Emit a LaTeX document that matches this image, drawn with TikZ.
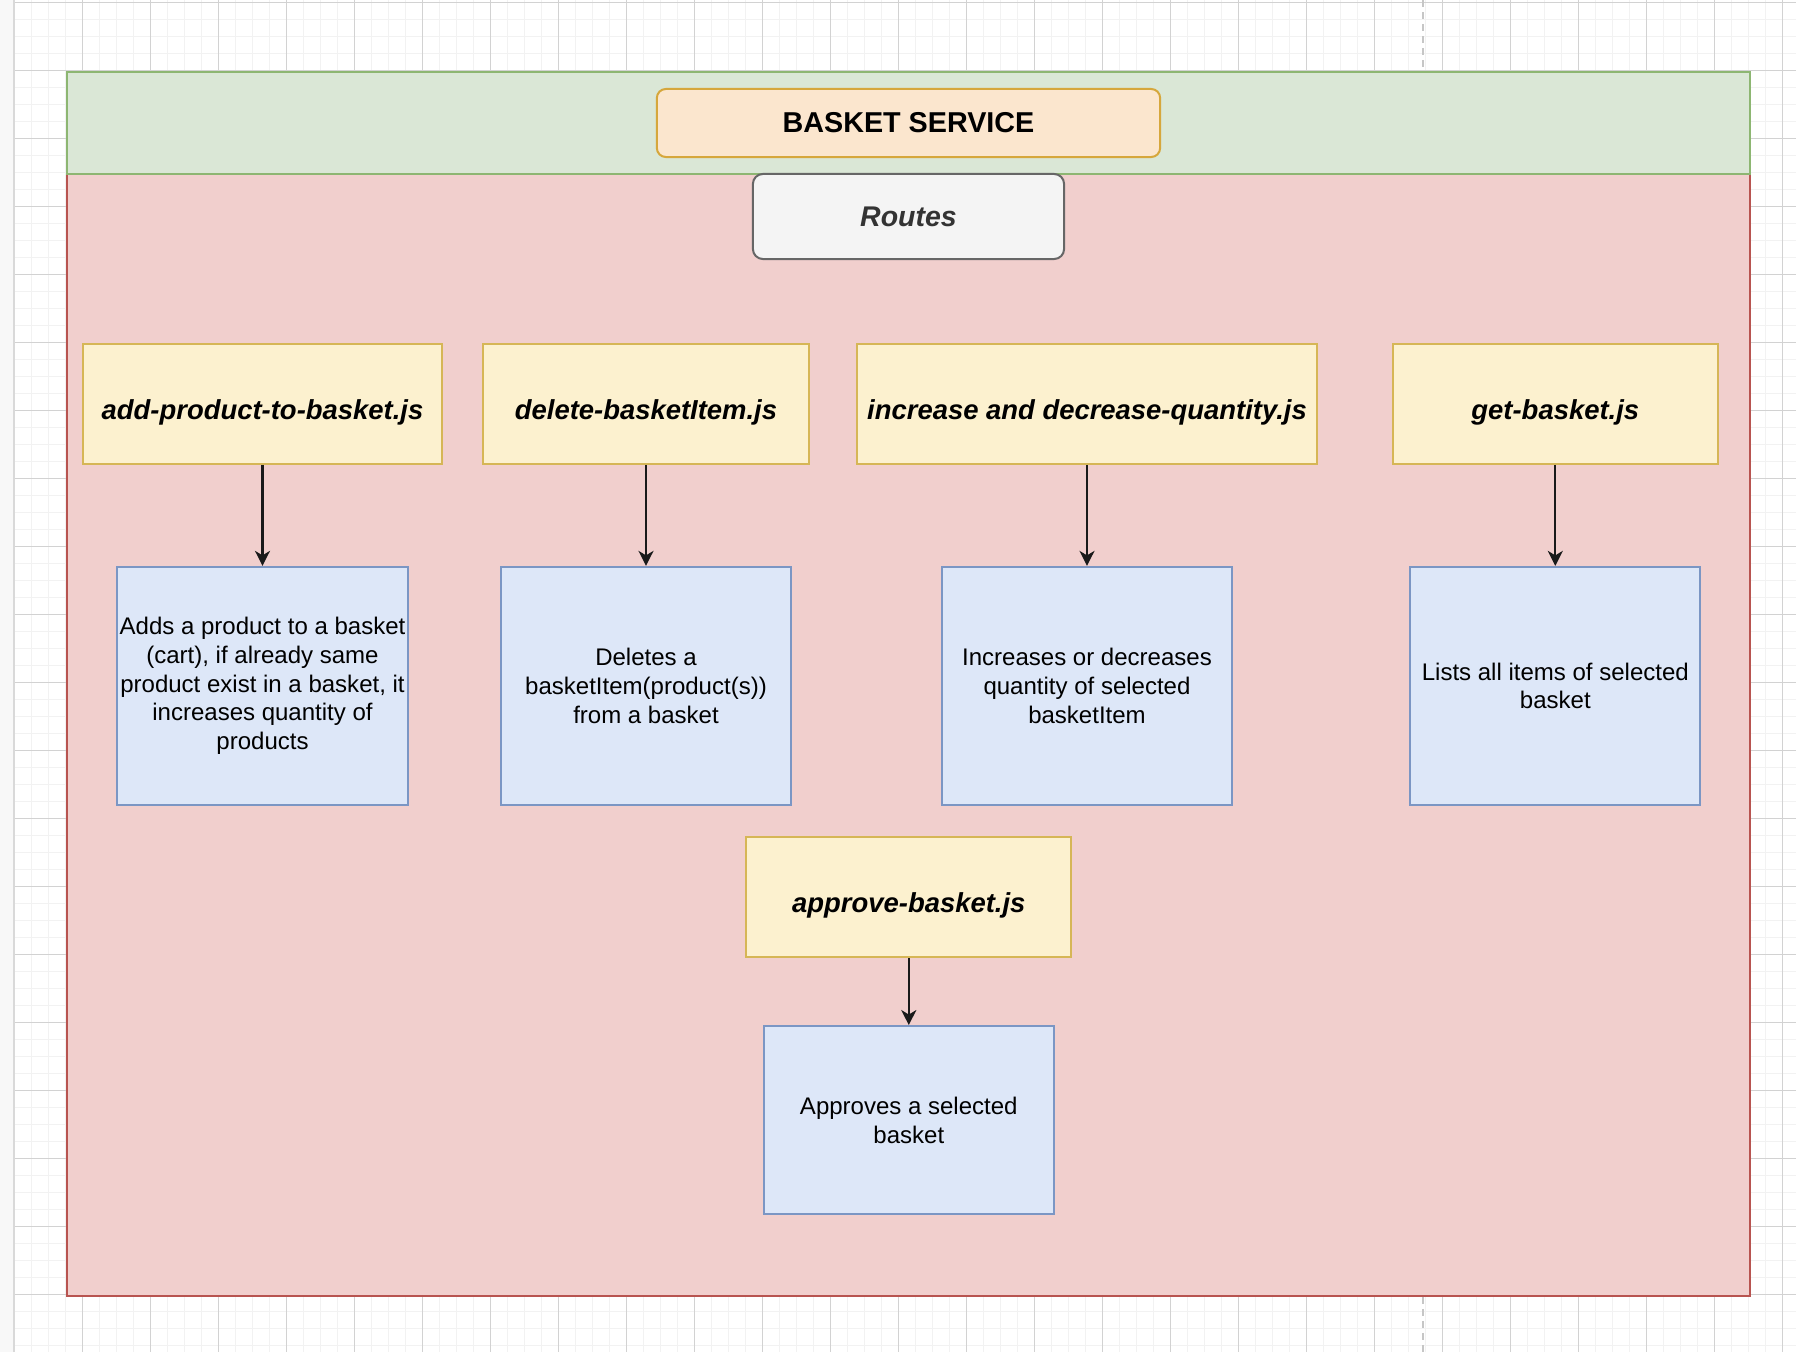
\documentclass[tikz,border=0pt]{standalone}
\usepackage{fontspec}
\setmainfont{Liberation Sans}
\usepackage{tikz}
\usetikzlibrary{arrows.meta, positioning, backgrounds}
\definecolor{gridmaj}{HTML}{D2D2D2}
\definecolor{gridmin}{HTML}{F2F2F2}
\definecolor{pagefill}{HTML}{F8F8F8}
\definecolor{bandfill}{HTML}{DAE7D6}
\definecolor{bandline}{HTML}{8DB672}
\definecolor{bodyfill}{HTML}{F1CFCD}
\definecolor{bodyline}{HTML}{B85450}
\definecolor{svcfill}{HTML}{FBE6CE}
\definecolor{svcline}{HTML}{D6A73C}
\definecolor{rtefill}{HTML}{F4F4F4}
\definecolor{rteline}{HTML}{666666}
\definecolor{rtetext}{HTML}{333333}
\definecolor{jsfill}{HTML}{FCF1CF}
\definecolor{jsline}{HTML}{D6B656}
\definecolor{descfill}{HTML}{DDE7F8}
\definecolor{descline}{HTML}{7B96C4}
\definecolor{arrowcol}{HTML}{1A1A1A}
\tikzset{
  svcbox/.style   = {draw=svcline, fill=svcfill, line width=0.02cm, rounded corners=0.09cm,
                     minimum width=5.03cm, minimum height=0.68cm, inner sep=0pt,
                     font=\fontsize{8.17}{9.8}\selectfont\bfseries},
  routebox/.style = {draw=rteline, fill=rtefill, line width=0.02cm, rounded corners=0.1cm,
                     minimum width=3.11cm, minimum height=0.85cm, inner sep=0pt, text=rtetext,
                     font=\fontsize{8.1}{9.7}\selectfont\bfseries\itshape},
  jsbox/.style    = {draw=jsline, fill=jsfill, line width=0.02cm, minimum height=1.2cm,
                     inner sep=0pt, text height=9.4pt, text depth=0.6pt,
                     font=\fontsize{7.8}{9.4}\selectfont\bfseries\itshape},
  descbox/.style  = {draw=descline, fill=descfill, line width=0.02cm, align=center,
                     minimum width=2.9cm, minimum height=2.38cm, inner sep=0pt,
                     font=\fontsize{6.83}{8.17}\selectfont},
  call/.style     = {-{Stealth[length=0.15cm, width=0.15cm, inset=0.045cm]},
                     draw=arrowcol, line width=0.022cm}
}

\begin{document}
\begin{tikzpicture}[x=0.01cm, y=-0.01cm]
  \useasboundingbox (0,0) rectangle (1796,1352);

  % header and routes
  \node[svcbox] (svc) at (908.5,123) {BASKET SERVICE};
  \node[routebox] (routes) at (908.5,216.5) {Routes};

  % route files
  \node[jsbox, minimum width=3.58cm] (add) at (262.5,403.8) {add-product-to-basket.js};
  \node[jsbox, minimum width=3.25cm] (del) at (646,403.8) {delete-basketItem.js};
  \node[jsbox, minimum width=4.6cm]  (inc) at (1087,403.8) {increase and decrease-quantity.js};
  \node[jsbox, minimum width=3.25cm] (get) at (1555.3,403.8) {get-basket.js};
  \node[jsbox, minimum width=3.25cm] (appr) at (908.8,897) {approve-basket.js};

  % what each route does
  \node[descbox, below=1.01cm of add] (addtxt)
       {Adds a product to a basket\\(cart), if already same\\product exist in a basket, it\\increases quantity of\\products};
  \node[descbox, below=1.01cm of del] (deltxt)
       {Deletes a\\basketItem(product(s))\\from a basket};
  \node[descbox, below=1.01cm of inc] (inctxt)
       {Increases or decreases\\quantity of selected\\basketItem};
  \node[descbox, below=1.01cm of get] (gettxt)
       {Lists all items of selected\\basket};
  \node[descbox, below=0.67cm of appr, minimum height=1.88cm] (apprtxt)
       {Approves a selected\\basket};

  \draw[call] (add) -- (addtxt);
  \draw[call] (del) -- (deltxt);
  \draw[call] (inc) -- (inctxt);
  \draw[call] (get) -- (gettxt);
  \draw[call] (appr) -- (apprtxt);

  \begin{scope}[on background layer]
    % canvas grid
    \fill[pagefill] (0,0) rectangle (14,1352);
    \draw[gray!30, line width=0.015cm] (14,0) -- (14,1352);
    \foreach \i in {1,...,104}
      \draw[gridmin, line width=0.012cm] (14.3+17*\i,0) -- (14.3+17*\i,1352);
    \foreach \i in {0,...,79}
      \draw[gridmin, line width=0.012cm] (15,2.3+17*\i) -- (1796,2.3+17*\i);
    \foreach \i in {1,...,26}
      \draw[gridmaj, line width=0.01cm] (14.3+68*\i,0) -- (14.3+68*\i,1352);
    \foreach \i in {0,...,19}
      \draw[gridmaj, line width=0.01cm] (15,2.3+68*\i) -- (1796,2.3+68*\i);
    \draw[gray!45, line width=0.02cm, dash pattern=on 0.07cm off 0.05cm] (1423,0) -- (1423,1352);
    % service frame
    \draw[draw=bodyline, fill=bodyfill, line width=0.02cm] (67,174) rectangle (1750,1296);
    \draw[draw=bandline, fill=bandfill, line width=0.02cm] (67,72) rectangle (1750,174);
  \end{scope}
\end{tikzpicture}
\end{document}
